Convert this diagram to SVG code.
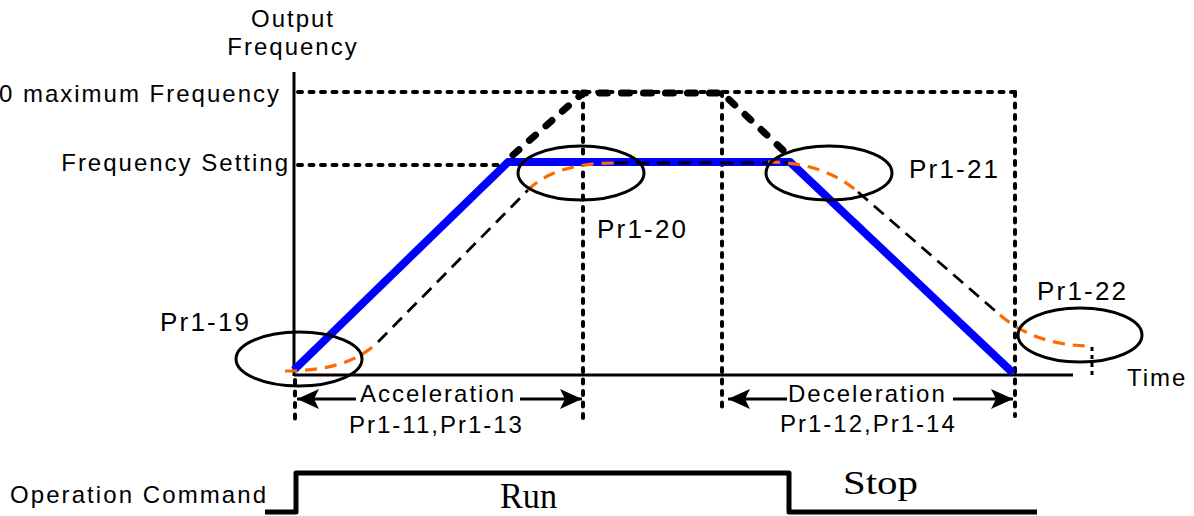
<svg xmlns="http://www.w3.org/2000/svg" width="1194" height="516" viewBox="0 0 1194 516">
  <defs>
    <style>
      .lbl { font-family: "Liberation Sans", Arial, sans-serif; font-size: 24px; letter-spacing: 2px; fill: #000; }
      .pr { font-family: "Liberation Sans", Arial, sans-serif; font-size: 26px; letter-spacing: 2.2px; fill: #000; }
      .serif { font-family: "Liberation Serif", "Times New Roman", serif; fill: #000; }
      .axis { stroke: #000; stroke-width: 3; fill: none; }
      .dot { stroke: #000; stroke-width: 4; stroke-linecap: round; stroke-dasharray: 4 7.5; fill: none; }
      .thick { stroke: #000; stroke-width: 7; stroke-linecap: round; stroke-dasharray: 8 14; fill: none; }
      .thin { stroke: #000; stroke-width: 2.8; stroke-dasharray: 13 8; fill: none; }
      .orange { stroke: #ff6a00; stroke-width: 3.2; stroke-dasharray: 12 8; fill: none; }
      .blue { stroke: #0000ff; stroke-width: 8; stroke-linejoin: round; fill: none; }
      .ell { stroke: #000; stroke-width: 3; fill: none; }
      .arr { stroke: #000; stroke-width: 3; fill: none; marker-end: url(#ah); }
    </style>
    <marker id="ah" markerUnits="userSpaceOnUse" markerWidth="24" markerHeight="22" refX="22" refY="10" orient="auto">
      <path d="M0,0 L22,10 L0,20 L5,10 z" fill="#000"/>
    </marker>
  </defs>

  <rect width="1194" height="516" fill="#fff"/>

  <g id="grid">
    <line class="dot" x1="298" y1="92" x2="1015" y2="92"/>
    <line class="dot" x1="298" y1="165" x2="505" y2="165"/>
    <line class="dot" x1="583" y1="92" x2="583" y2="418"/>
    <line class="dot" x1="722" y1="92" x2="722" y2="413"/>
    <line class="dot" x1="1015" y1="92" x2="1015" y2="416"/>
    <line class="dot" x1="295" y1="380" x2="295" y2="420"/>
  </g>

  <g id="axes">
    <line class="axis" x1="294" y1="72" x2="294" y2="376"/>
    <line class="axis" x1="294" y1="375" x2="1073" y2="375"/>
  </g>

  <g id="connectors">
    <polyline class="blue" points="294,370 508,162 790,162 1013,373"/>
    <polyline class="thick" points="513,155 583,93 722,93 785,152"/>
    <line class="thin" x1="378" y1="342" x2="528" y2="190"/>
    <line class="thin" x1="615" y1="163" x2="790" y2="163"/>
    <line class="thin" x1="858" y1="192" x2="1000" y2="315"/>
    <path class="orange" d="M285,371 Q349,371 378,342"/>
    <path class="orange" d="M528,190 Q555,163 615,163"/>
    <path class="orange" d="M768,162 C805,162 835,172 858,192"/>
    <path class="orange" d="M1000,315 Q1036,346 1092,346"/>
    <line stroke="#000" stroke-width="3" stroke-dasharray="4 4" x1="1092" y1="347" x2="1092" y2="375"/>
    <line class="arr" x1="356" y1="399" x2="297" y2="399"/>
    <line class="arr" x1="520" y1="399" x2="582" y2="399"/>
    <line class="arr" x1="787" y1="399" x2="728" y2="399"/>
    <line class="arr" x1="953" y1="399" x2="1013" y2="399"/>
    <polyline stroke="#000" stroke-width="5" fill="none" stroke-linejoin="round" points="265,512 296,512 296,473 789,473 789,512 1037,512"/>
  </g>

  <g id="pr1-19"><ellipse class="ell" cx="299" cy="359" rx="63" ry="27"/><text class="pr" x="160" y="331">Pr1-19</text></g>
  <g id="pr1-20"><ellipse class="ell" cx="581" cy="173" rx="63" ry="27"/><text class="pr" x="597" y="238">Pr1-20</text></g>
  <g id="pr1-21"><ellipse class="ell" cx="829" cy="173" rx="63" ry="27"/><text class="pr" x="909" y="178">Pr1-21</text></g>
  <g id="pr1-22"><ellipse class="ell" cx="1080" cy="335" rx="62" ry="27"/><text class="pr" x="1037" y="300">Pr1-22</text></g>

  <g id="labels">
    <text class="lbl" x="293" y="27" text-anchor="middle">Output</text>
    <text class="lbl" x="293" y="55" text-anchor="middle">Frequency</text>
    <text class="lbl" x="281" y="102" text-anchor="end" letter-spacing="2.3">0 maximum Frequency</text>
    <text class="lbl" x="290" y="171" text-anchor="end">Frequency Setting</text>
    <text class="lbl" x="1127" y="386">Time</text>
    <text class="lbl" x="360" y="402">Acceleration</text>
    <text class="lbl" x="349" y="433">Pr1-11,Pr1-13</text>
    <text class="lbl" x="788" y="402">Deceleration</text>
    <text class="lbl" x="780" y="432">Pr1-12,Pr1-14</text>
    <text class="lbl" x="10" y="503" textLength="258">Operation Command</text>
    <text class="serif" x="500" y="508" font-size="36" textLength="57" lengthAdjust="spacingAndGlyphs">Run</text>
    <text class="serif" x="843" y="494" font-size="34" textLength="75" lengthAdjust="spacingAndGlyphs">Stop</text>
  </g>
</svg>
